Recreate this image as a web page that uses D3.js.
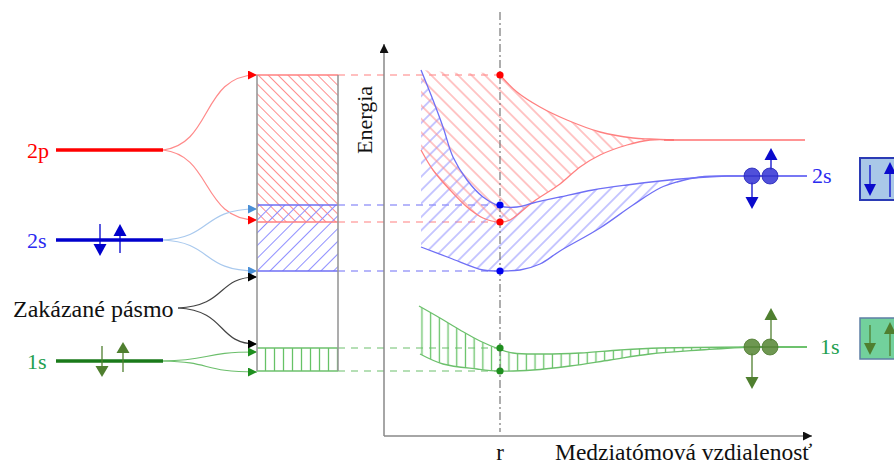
<!DOCTYPE html>
<html lang="sk">
<head>
<meta charset="UTF-8">
<title>Energetické pásma</title>
<script src="https://d3js.org/d3.v7.min.js"></script>
<style>
  html, body { margin: 0; padding: 0; background: #fff; }
  svg { display: block; font-family: "Liberation Serif", "Times New Roman", serif; }
</style>
</head>
<body>
<svg id="chart" width="894" height="466"></svg>
<script>
// ---- data (energy in arbitrary units, distance in arbitrary units) ----
const levels = ["1s", "2s", "2p"];
const atomicEnergy = [75, 196, 286];      // isolated atom levels
const bandTop = [88, 231, 361];           // band edges at r
const bandBottom = [65, 165, 214];
const moleculeEnergy = [89, 260, 296];    // level at large distance
const rEq = 116;                          // equilibrium distance r

// band boundaries vs. distance [distance, energy]
const red2pUpper = [[37,366],[76,363],[116,361],[133,344],[156,329],[183,316],[216,304],[249,298],[266,297],[290,296]];
const red2pLower = [[37,286],[49,266],[66,246],[83,229],[99,218],[116,214],[126,216],[149,234],[176,252],[196,269],[216,281],[243,291],[266,296],[290,296]];
const blue2sUpper = [[37,366],[49,336],[59,309],[69,279],[83,256],[99,239],[116,230],[133,229],[149,233],[176,239],[209,246],[243,251],[276,255],[309,258],[343,260]];
const blue2sLower = [[37,189],[66,178],[99,166],[116,165],[136,166],[156,172],[176,185],[216,208],[249,231],[276,248],[293,254],[316,259],[343,260]];
const green1sUpper = [[35,130],[56,118],[76,106],[96,95],[115,87],[129,83],[156,82],[196,83],[236,86],[276,88],[366,89]];
const green1sLower = [[36,82],[59,72],[93,67],[115,65],[149,66],[186,70],[226,76],[266,82],[316,86],[366,89]];

const colors = {
  "2p": { main: "#ff0000", light: "#ff8080", hatch: "#ff8e8e", label: "#ff0000" },
  "2s": { main: "#0000cc", light: "#6f6ff5", hatch: "#9090ff", label: "#2b2bf0" },
  "1s": { main: "#1a7a1a", light: "#6cc06c", hatch: "#66c266", label: "#22a050" }
};

const svg = d3.select("#chart");
const defs = svg.append("defs");

// scales
const xs = d3.scaleLinear().domain([0, 430]).range([384, 814]);
const ys = d3.scaleLinear().domain([0, 400]).range([436, 36]);

// hatch patterns
function hatch(id, size, angle, color, sw) {
  const p = defs.append("pattern")
    .attr("id", id)
    .attr("patternUnits", "userSpaceOnUse")
    .attr("width", size).attr("height", size)
    .attr("patternTransform", `rotate(${angle})`);
  p.append("line")
    .attr("x1", size / 2).attr("y1", 0)
    .attr("x2", size / 2).attr("y2", size)
    .attr("stroke", color).attr("stroke-width", sw);
}
hatch("hRedBand", 7, -45, colors["2p"].hatch, 1);
hatch("hBlueBand", 9, 45, colors["2s"].hatch, 1);
hatch("hGreenBand", 9, 0, colors["1s"].hatch, 1.3);
hatch("hRed", 9.5, -45, colors["2p"].hatch, 1);
hatch("hBlue", 9.5, 45, colors["2s"].hatch, 1);
hatch("hGreen", 8.7, 0, colors["1s"].hatch, 1.3);

// arrow markers
function marker(id, color) {
  defs.append("marker")
    .attr("id", id)
    .attr("markerUnits", "userSpaceOnUse")
    .attr("markerWidth", 10).attr("markerHeight", 10)
    .attr("refX", 9).attr("refY", 4.5)
    .attr("orient", "auto")
    .append("path")
    .attr("d", "M0,0 L9,4.5 L0,9 Z")
    .attr("fill", color);
}
marker("mRed", "#ff0000");
marker("mBlue", "#4a8fd6");
marker("mBlack", "#000");
marker("mGreen", "#1f8f1f");
marker("mAxis", "#111");

// ---- left: atomic levels ----
const lvlX0 = 56, lvlX1 = 163, bandX0 = 257, bandX1 = 338;

levels.forEach((lv, i) => {
  const y = ys(atomicEnergy[i]);
  svg.append("line")
    .attr("x1", lvlX0).attr("x2", lvlX1).attr("y1", y).attr("y2", y)
    .attr("stroke", colors[lv].main).attr("stroke-width", 3.5);
  svg.append("text")
    .attr("x", lvlX0 - 29).attr("y", y + 8)
    .attr("font-size", 22).attr("fill", colors[lv].label)
    .text(lv);
});

function spin(x, yTip, yTail, color, head, half) {
  const dir = yTip > yTail ? 1 : -1;
  svg.append("line")
    .attr("x1", x).attr("x2", x).attr("y1", yTail).attr("y2", yTip - dir * head)
    .attr("stroke", color).attr("stroke-width", 1.3);
  svg.append("path")
    .attr("d", `M${x - half},${yTip - dir * head} L${x + half},${yTip - dir * head} L${x},${yTip} Z`)
    .attr("fill", color);
}
// spins on 2s and 1s
{
  const y2 = ys(atomicEnergy[1]);
  spin(100, y2 + 16, y2 - 16, colors["2s"].main, 12, 6.5);
  spin(120, y2 - 16, y2 + 13, colors["2s"].main, 12, 6.5);
  const y1 = ys(atomicEnergy[0]);
  spin(102, y1 + 16, y1 - 15, "#4f7f2f", 11, 6.5);
  spin(123, y1 - 19, y1 + 11, "#4f7f2f", 11, 6.5);
}

// connectors to bands
function connector(x0, y0, y1, stroke, mk) {
  svg.append("path")
    .attr("d", `M${x0},${y0} C${x0 + 50},${y0 + (y1 - y0) * 0.08} ${x0 + 38},${y1} ${bandX0},${y1}`)
    .attr("fill", "none").attr("stroke", stroke).attr("stroke-width", 1.2)
    .attr("marker-end", `url(#${mk})`);
}
connector(lvlX1, ys(atomicEnergy[2]), ys(bandTop[2]), "#ff8a8a", "mRed");
connector(lvlX1, ys(atomicEnergy[2]), ys(bandBottom[2]) - 2, "#ff8a8a", "mRed");
connector(lvlX1, ys(atomicEnergy[1]), ys(bandTop[1]) + 4, "#a9c9ee", "mBlue");
connector(lvlX1, ys(atomicEnergy[1]), ys(bandBottom[1]), "#a9c9ee", "mBlue");
connector(lvlX1, ys(atomicEnergy[0]), ys(bandTop[0]) + 4, "#6cbf6c", "mGreen");
connector(lvlX1, ys(atomicEnergy[0]), ys(bandBottom[0]) + 1, "#6cbf6c", "mGreen");
connector(178, 308, ys(bandBottom[1]) + 6, "#444", "mBlack");
connector(178, 308, ys(bandTop[0]) - 4, "#444", "mBlack");

svg.append("text")
  .attr("x", 13).attr("y", 317)
  .attr("font-size", 24).attr("fill", "#111")
  .text("Zakázané pásmo");

// bands
const bandFill = ["hGreenBand", "hBlueBand", "hRedBand"];
[2, 1, 0].forEach(i => {
  svg.append("rect")
    .attr("x", bandX0).attr("width", bandX1 - bandX0)
    .attr("y", ys(bandTop[i])).attr("height", ys(bandBottom[i]) - ys(bandTop[i]))
    .attr("fill", `url(#${bandFill[i]})`);
});
levels.forEach((lv, i) => {
  [bandTop[i], bandBottom[i]].forEach(E => {
    const y = ys(E);
    svg.append("line")
      .attr("x1", bandX0).attr("x2", bandX1).attr("y1", y).attr("y2", y)
      .attr("stroke", colors[lv].light).attr("stroke-width", 1.3);
    svg.append("line")
      .attr("x1", bandX1).attr("x2", xs(rEq)).attr("y1", y).attr("y2", y)
      .attr("stroke", colors[lv].light).attr("stroke-width", 1.2)
      .attr("stroke-dasharray", "7,6");
  });
});
[bandX0, bandX1].forEach(x => {
  svg.append("line")
    .attr("x1", x).attr("x2", x).attr("y1", ys(bandTop[2])).attr("y2", ys(bandBottom[0]))
    .attr("stroke", "#999").attr("stroke-width", 1.6);
});

// ---- right: energy vs distance ----
const line = d3.line().x(d => xs(d[0])).y(d => ys(d[1])).curve(d3.curveCatmullRom);
function region(upper, lower, pat) {
  const a = line(upper);
  const b = line(lower.slice().reverse());
  svg.append("path")
    .attr("d", a + "L" + b.substring(1) + "Z")
    .attr("fill", `url(#${pat})`);
}
region(blue2sUpper, blue2sLower, "hBlue");
region(red2pUpper, red2pLower, "hRed");
region(green1sUpper, green1sLower, "hGreen");

function curve(pts, color) {
  svg.append("path").attr("d", line(pts))
    .attr("fill", "none").attr("stroke", color).attr("stroke-width", 1.3);
}
curve(red2pUpper.filter(d => d[0] >= rEq), colors["2p"].light);
curve(red2pLower, colors["2p"].light);
curve(blue2sUpper, colors["2s"].light);
curve(blue2sLower, colors["2s"].light);
curve(green1sUpper, colors["1s"].light);
curve(green1sLower, colors["1s"].light);

// molecular levels at large distance
svg.append("line")
  .attr("x1", xs(280)).attr("x2", xs(421)).attr("y1", ys(moleculeEnergy[2])).attr("y2", ys(moleculeEnergy[2]))
  .attr("stroke", "#ff7070").attr("stroke-width", 1.5);
svg.append("line")
  .attr("x1", xs(343)).attr("x2", xs(423)).attr("y1", ys(moleculeEnergy[1])).attr("y2", ys(moleculeEnergy[1]))
  .attr("stroke", "#4a4af0").attr("stroke-width", 1.3);
svg.append("line")
  .attr("x1", xs(366)).attr("x2", xs(423)).attr("y1", ys(moleculeEnergy[0])).attr("y2", ys(moleculeEnergy[0]))
  .attr("stroke", "#3cae3c").attr("stroke-width", 1.3);

// axes
svg.append("line")
  .attr("x1", xs(0)).attr("x2", xs(0)).attr("y1", ys(0)).attr("y2", ys(392))
  .attr("stroke", "#888").attr("stroke-width", 1.5).attr("marker-end", "url(#mAxis)");
svg.append("line")
  .attr("x1", xs(0)).attr("x2", xs(428)).attr("y1", ys(0)).attr("y2", ys(0))
  .attr("stroke", "#888").attr("stroke-width", 1.5).attr("marker-end", "url(#mAxis)");

svg.append("text")
  .attr("transform", `translate(372,120) rotate(-90)`)
  .attr("text-anchor", "middle").attr("font-size", 22).attr("fill", "#111")
  .text("Energia");
svg.append("text")
  .attr("x", xs(rEq)).attr("y", 460).attr("text-anchor", "middle")
  .attr("font-size", 23).attr("fill", "#111").text("r");
svg.append("text")
  .attr("x", 555).attr("y", 460)
  .attr("font-size", 23.5).attr("fill", "#111").text("Medziatómová vzdialenosť");

// r line
svg.append("line")
  .attr("x1", xs(rEq)).attr("x2", xs(rEq)).attr("y1", 12).attr("y2", 432)
  .attr("stroke", "#777").attr("stroke-width", 1.2)
  .attr("stroke-dasharray", "8,3,2,3");

// dots at r
const dotColor = { "1s": "#1f8f1f", "2s": "#0000ee", "2p": "#ff0000" };
levels.forEach((lv, i) => {
  [bandTop[i], bandBottom[i]].forEach(E => {
    svg.append("circle")
      .attr("cx", xs(rEq)).attr("cy", ys(E)).attr("r", 3.6)
      .attr("fill", dotColor[lv]);
  });
});

// atom pairs on the right
const pairs = [
  { lv: "1s", fill: "#5e8c3e", stroke: "#4c7a2e", arrow: "#4f7f2f", down: 42, up: 39 },
  { lv: "2s", fill: "#3d3dd6", stroke: "#2323b8", arrow: "#0a0acc", down: 33, up: 28 }
];
pairs.forEach(p => {
  const i = levels.indexOf(p.lv);
  const y = ys(moleculeEnergy[i]);
  spin(752, y + p.down, y + 6, p.arrow, 12, 6.5);
  spin(771, y - p.up, y - 6, p.arrow, 12, 6.5);
  [752, 770].forEach(cx => {
    svg.append("circle")
      .attr("cx", cx).attr("cy", y).attr("r", 8)
      .attr("fill", p.fill).attr("fill-opacity", 0.9)
      .attr("stroke", p.stroke).attr("stroke-width", 0.8);
  });
  svg.append("line")
    .attr("x1", 744).attr("x2", 778).attr("y1", y).attr("y2", y)
    .attr("stroke", p.stroke).attr("stroke-width", 0.8).attr("opacity", 0.6);
  svg.append("text")
    .attr("x", p.lv === "2s" ? 812 : 820).attr("y", y + 7)
    .attr("font-size", 22).attr("fill", colors[p.lv].label)
    .text(p.lv);
});

// band boxes at right edge
const boxes = [
  { lv: "2s", y: 158, h: 42, fill: "#a9c8e8", stroke: "#2b3bb5", sw: 2, arrow: "#0a0acc" },
  { lv: "1s", y: 318, h: 41, fill: "#72d19c", stroke: "#5d7fa5", sw: 1.5, arrow: "#4f7f2f" }
];
boxes.forEach(b => {
  svg.append("rect")
    .attr("x", 860).attr("y", b.y).attr("width", 40).attr("height", b.h)
    .attr("fill", b.fill).attr("stroke", b.stroke).attr("stroke-width", b.sw);
  spin(870, b.y + b.h - 4, b.y + 7, b.arrow, 12, 6);
  spin(890, b.y + 4, b.y + b.h - 3, b.arrow, 12, 6);
});
</script>
</body>
</html>
